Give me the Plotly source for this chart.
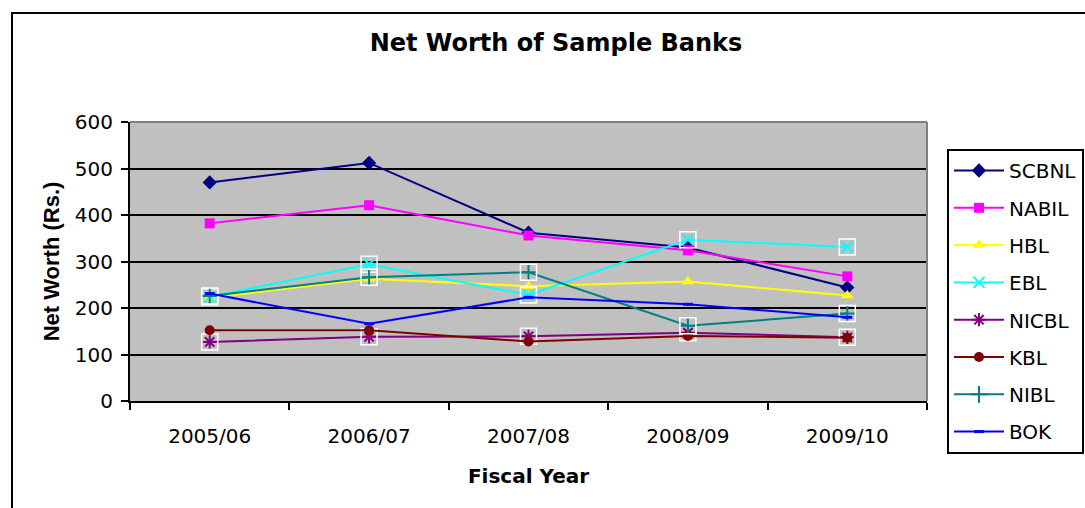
import plotly.graph_objects as go

years = ["2005/06", "2006/07", "2007/08", "2008/09", "2009/10"]
SCBNL = [470, 512, 362, 330, 244]
NABIL = [382, 421, 356, 324, 268]
HBL = [222, 263, 247, 257, 227]
EBL = [224, 294, 228, 347, 331]
NICBL = [127, 138, 139, 147, 137]
KBL = [152, 152, 128, 140, 136]
NIBL = [226, 266, 277, 162, 188]
BOK = [231, 166, 223, 208, 180]

series = [
    ("SCBNL", SCBNL, "#000080", "diamond", 11),
    ("NABIL", NABIL, "#FF00FF", "square", 10),
    ("HBL", HBL, "#FFFF00", "triangle-up", 11),
    ("EBL", EBL, "#00FFFF", "x-thin", 11),
    ("NICBL", NICBL, "#800080", "asterisk", 11),
    ("KBL", KBL, "#800000", "circle", 10),
    ("NIBL", NIBL, "#008080", "cross-thin", 12),
    ("BOK", BOK, "#0000FF", "line-ew", 7),
]
boxed = {"EBL", "NICBL", "NIBL"}

fig = go.Figure()
for i, (name, vals, col, sym, size) in enumerate(series):
    marker = dict(symbol=sym, size=size, color=col)
    if sym in ("x-thin", "asterisk", "cross-thin", "line-ew"):
        marker["line"] = dict(color=col, width=3 if sym == "line-ew" else 2)
    fig.add_trace(go.Scatter(
        x=years, y=vals, name=name, mode="lines+markers",
        line=dict(color=col, width=2), marker=marker,
        legendgroup=name,
    ))
    if name in boxed:
        fig.add_trace(go.Scatter(
            x=years, y=vals, mode="markers", showlegend=False, hoverinfo="skip",
            marker=dict(symbol="square-open", size=16, color="white",
                        line=dict(color="white", width=1.5)),
        ))

L, R, T, B = 130, 158, 122, 107
W, H = 1085, 508
pw, ph = W - L - R, H - T - B

def px_x(p):
    return (p - L) / pw

def px_y(p):
    return (H - B - p) / ph

fig.update_layout(
    width=W, height=H,
    margin=dict(l=L, r=R, t=T, b=B, autoexpand=False),
    paper_bgcolor="white", plot_bgcolor="#C0C0C0",
    font=dict(family="DejaVu Sans", size=20, color="black"),
    title=dict(text="<b>Net Worth of Sample Banks</b>", x=556 / W, xref="container",
               xanchor="center", y=1 - 43 / H, yref="container", yanchor="middle",
               font=dict(family="DejaVu Sans", size=24, color="black")),
    showlegend=True,
    legend=dict(x=px_x(947), y=px_y(149), xanchor="left", yanchor="top",
                bgcolor="white", bordercolor="black", borderwidth=2,
                traceorder="grouped", tracegroupgap=8.3, maxheight=400,
                entrywidth=150,
                font=dict(family="DejaVu Sans", size=20), itemwidth=50),
    xaxis=dict(type="category", range=[-0.5, 4.5], tickson="boundaries", ticks="outside",
               ticklen=7, tickcolor="black", tickwidth=1.5, showline=True,
               linecolor="black", linewidth=2, showgrid=False, ticklabelstandoff=16,
               title=dict(text="<b>Fiscal Year</b>", standoff=22,
                          font=dict(family="DejaVu Sans", size=20))),
    yaxis=dict(range=[0, 600], dtick=100, ticks="outside", ticklen=7, tickcolor="black",
               tickwidth=1.5, showline=True, linecolor="black", linewidth=2,
               showgrid=True, gridcolor="black", gridwidth=2, zeroline=False,
               ticklabelstandoff=4,
               title=dict(text="<b>Net Worth (Rs.)</b>", standoff=9,
                          font=dict(family="Liberation Sans, Arial", size=22))),
    shapes=[
        dict(type="line", xref="paper", yref="paper", x0=0, x1=1, y0=1, y1=1,
             line=dict(color="#808080", width=2), layer="above"),
        dict(type="line", xref="paper", yref="paper", x0=1, x1=1, y0=0, y1=1,
             line=dict(color="#808080", width=2), layer="above"),
        dict(type="rect", xref="paper", yref="paper", x0=px_x(12), x1=px_x(1095),
             y0=px_y(520), y1=px_y(13), line=dict(color="black", width=2),
             layer="below"),
    ],
)

fig.write_html("out.html")
